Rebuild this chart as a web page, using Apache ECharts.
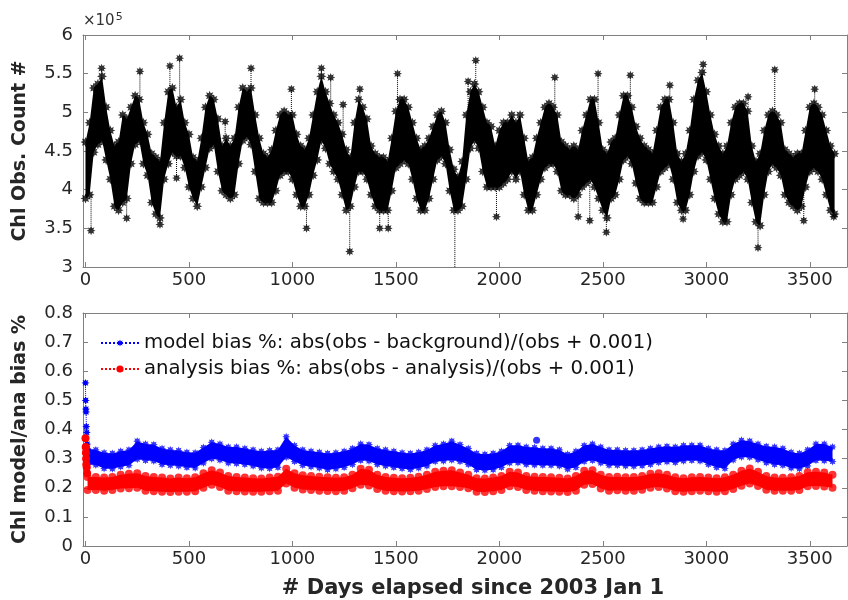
<!DOCTYPE html>
<html>
<head>
<meta charset="utf-8">
<script src="https://cdn.jsdelivr.net/npm/echarts@6/dist/echarts.min.js"></script>
<style>
  html, body { margin: 0; padding: 0; background: #fff; }
  #chart { width: 848px; height: 600px; }
</style>
</head>
<body>
<div id="chart"></div>
<script>
// Chl obs count (x1e5), upper / lower edge of the daily scatter, one value per 20 days from day 0
const obsHi = [
  4.65,4.9,5.35,5.4,5.5,5.1,4.8,4.6,4.65,5.0,
  4.95,5.1,5.25,5.2,4.9,4.75,4.5,4.45,4.4,4.9,
  5.3,5.35,5.1,5.2,4.9,4.75,4.45,4.4,4.7,5.1,
  5.25,5.2,4.95,4.6,4.7,4.6,4.7,5.1,5.35,5.3,
  5.35,5.0,4.7,4.5,4.45,4.55,4.8,5.0,5.05,5.0,
  5.0,4.75,4.6,4.55,4.7,5.0,5.3,5.5,5.3,5.15,
  5.0,4.9,4.75,4.55,4.45,4.9,5.2,5.1,4.95,4.6,
  4.5,4.45,4.45,4.4,4.7,5.05,5.2,5.2,5.1,4.9,
  4.7,4.55,4.6,4.7,4.85,5.0,5.05,4.9,4.55,4.3,
  4.2,4.4,5.0,5.3,5.4,5.3,5.1,4.9,4.85,4.6,
  4.8,4.9,4.9,5.0,4.9,5.0,4.7,4.4,4.45,4.7,
  4.9,5.1,5.15,5.1,5.0,4.65,4.6,4.55,4.6,4.55,
  4.8,5.0,5.2,5.2,4.9,4.55,4.5,4.65,4.7,5.0,
  5.25,5.25,5.1,4.85,4.7,4.6,4.55,4.5,4.8,5.1,
  5.2,5.2,4.9,4.5,4.4,4.5,4.8,5.2,5.45,5.55,
  5.3,5.0,4.75,4.6,4.5,4.6,4.9,5.1,5.15,5.15,
  5.05,4.6,4.4,4.5,4.8,5.0,5.05,5.0,4.9,4.55,
  4.5,4.45,4.5,4.5,4.8,5.1,5.15,5.1,5.0,4.8,
  4.6,4.5
];
const obsLo = [
  3.85,3.9,4.45,4.55,4.6,4.35,4.1,3.75,3.7,3.8,
  3.85,4.3,4.55,4.6,4.3,4.15,3.8,3.65,3.6,4.1,
  4.3,4.45,4.4,4.4,4.25,4.0,3.85,3.75,4.0,4.25,
  4.5,4.55,4.2,3.95,3.9,3.85,3.9,4.3,4.6,4.65,
  4.55,4.2,3.85,3.8,3.8,3.8,3.95,4.15,4.2,4.2,
  4.1,3.9,3.75,3.75,3.9,4.15,4.35,4.6,4.5,4.3,
  4.2,4.1,3.9,3.7,3.75,4.0,4.2,4.2,4.1,3.9,
  3.75,3.7,3.7,3.7,3.95,4.25,4.3,4.35,4.3,4.1,
  3.85,3.7,3.7,3.85,4.1,4.35,4.4,4.3,3.95,3.7,
  3.7,3.75,4.1,4.5,4.6,4.5,4.2,4.0,4.0,4.0,
  4.0,4.05,4.1,4.2,4.1,4.2,3.9,3.7,3.7,3.9,
  4.1,4.25,4.3,4.3,4.2,3.95,3.9,3.9,3.85,3.9,
  4.0,4.05,4.1,4.0,3.85,3.7,3.6,3.85,3.9,4.1,
  4.35,4.4,4.3,4.05,3.85,3.8,3.8,3.8,4.0,4.2,
  4.25,4.3,4.1,3.8,3.7,3.7,3.9,4.2,4.4,4.45,
  4.35,4.1,3.85,3.65,3.55,3.55,3.9,4.1,4.15,4.2,
  4.1,3.8,3.55,3.5,3.9,4.2,4.3,4.25,4.15,3.9,
  3.8,3.75,3.7,3.75,4.0,4.2,4.25,4.2,4.1,3.9,
  3.7,3.65
];
// isolated outlying days in the count series
const spikeDays = [27,78,199,263,360,408,440,455,675,800,995,1068,1140,1185,1245,1277,1326,1422,1463,1508,
  1785,1849,1886,1986,2268,2381,2437,2477,2517,2633,2824,2888,2985,3202,3250,3331,3471,3524,3616];
const spikeVals = [3.47,5.57,3.63,5.53,3.55,5.6,4.15,5.7,4.88,5.57,5.3,3.5,5.57,5.45,5.1,3.2,5.3,3.5,3.5,5.5,
  2.9,5.4,5.67,3.65,5.45,3.65,3.6,5.5,3.45,5.48,5.35,3.62,5.62,5.2,3.25,5.55,3.6,5.3,3.65];

// bias bands, one value per 40 days from day 10
const blueHi = [
  0.335,0.33,0.32,0.318,0.325,0.33,0.36,0.35,0.348,0.335,
  0.33,0.328,0.322,0.32,0.338,0.356,0.35,0.34,0.34,0.335,
  0.33,0.325,0.328,0.33,0.375,0.345,0.33,0.325,0.322,0.318,
  0.32,0.325,0.335,0.35,0.348,0.335,0.33,0.325,0.32,0.318,
  0.322,0.33,0.345,0.35,0.36,0.348,0.335,0.318,0.315,0.318,
  0.325,0.345,0.346,0.34,0.338,0.335,0.335,0.33,0.315,0.325,
  0.345,0.35,0.34,0.33,0.33,0.328,0.328,0.33,0.335,0.34,
  0.342,0.34,0.345,0.346,0.346,0.335,0.33,0.328,0.35,0.363,
  0.36,0.35,0.342,0.34,0.335,0.322,0.318,0.33,0.35,0.35,
  0.34
];
const blueLo = [
  0.28,0.278,0.266,0.265,0.272,0.277,0.298,0.294,0.292,0.28,
  0.277,0.275,0.27,0.268,0.285,0.3,0.295,0.285,0.283,0.28,
  0.275,0.268,0.266,0.27,0.305,0.29,0.277,0.272,0.268,0.262,
  0.265,0.27,0.28,0.294,0.292,0.28,0.275,0.27,0.266,0.263,
  0.268,0.275,0.29,0.292,0.295,0.29,0.28,0.262,0.26,0.262,
  0.27,0.285,0.286,0.28,0.278,0.277,0.277,0.275,0.264,0.27,
  0.29,0.294,0.285,0.277,0.277,0.275,0.274,0.276,0.28,0.287,
  0.289,0.287,0.292,0.294,0.292,0.28,0.27,0.266,0.295,0.306,
  0.305,0.296,0.286,0.28,0.277,0.268,0.265,0.275,0.294,0.293,
  0.29
];
const redHi = [
  0.237,0.237,0.235,0.237,0.245,0.248,0.25,0.24,0.237,0.235,
  0.232,0.235,0.233,0.236,0.25,0.26,0.252,0.24,0.237,0.235,
  0.233,0.232,0.235,0.238,0.265,0.25,0.243,0.24,0.238,0.236,
  0.234,0.236,0.245,0.265,0.262,0.245,0.237,0.234,0.233,0.234,
  0.238,0.245,0.255,0.258,0.26,0.252,0.245,0.233,0.232,0.235,
  0.24,0.255,0.252,0.24,0.238,0.237,0.236,0.234,0.232,0.24,
  0.258,0.26,0.245,0.237,0.238,0.236,0.237,0.24,0.248,0.25,
  0.245,0.236,0.233,0.236,0.237,0.235,0.233,0.236,0.245,0.258,
  0.266,0.255,0.24,0.235,0.234,0.236,0.24,0.253,0.255,0.252,
  0.245
];
const redLo = [
  0.192,0.192,0.19,0.192,0.197,0.198,0.2,0.19,0.188,0.186,
  0.185,0.186,0.186,0.188,0.2,0.21,0.203,0.19,0.188,0.187,
  0.186,0.186,0.188,0.19,0.215,0.2,0.194,0.192,0.19,0.189,
  0.188,0.19,0.198,0.21,0.208,0.196,0.19,0.188,0.187,0.188,
  0.19,0.196,0.203,0.205,0.205,0.203,0.198,0.186,0.185,0.188,
  0.192,0.205,0.203,0.192,0.19,0.188,0.187,0.186,0.185,0.19,
  0.21,0.213,0.197,0.19,0.191,0.19,0.19,0.193,0.2,0.203,
  0.197,0.188,0.186,0.188,0.19,0.188,0.186,0.188,0.196,0.207,
  0.215,0.206,0.193,0.19,0.19,0.19,0.192,0.205,0.206,0.204,
  0.2
];
// first days of the run (spin-up)
const startDays = [0, 1, 2, 3, 4, 6, 8];
const blueStart = [0.56, 0.5, 0.47, 0.46, 0.41, 0.39, 0.35];
const redStart = [0.37, 0.34, 0.32, 0.3, 0.28, 0.27, 0.25];
const blueOddDays = [2180];
const blueOddVals = [0.363];

const xTicks = [0, 500, 1000, 1500, 2000, 2500, 3000, 3500];
const NAME_MODEL = 'model bias %: abs(obs - background)/(obs + 0.001)';
const NAME_ANA = 'analysis bias %: abs(obs - analysis)/(obs + 0.001)';

const FONT = '"DejaVu Sans", Verdana, sans-serif';
const STAR = 'path://M20 10L15.08 12.04L17.07 17.07L12.04 15.08L10 20L7.96 15.08L2.93 17.07L4.92 12.04L0 10L4.92 7.96L2.93 2.93L7.96 4.92L10 0L12.04 4.92L17.07 2.93L15.08 7.96Z';

// part of a marker radius in data units, so the drawn band keeps the read extent
const OBS_INSET = 0.035;
const BIAS_INSET = 0;

const obsDays = obsHi.map((_, i) => i * 20);
const biasDays = blueHi.map((_, i) => 10 + i * 40);

// filled band between the upper and lower edge, plus markers on both edges
function bandSeries(days, hi, lo, inset, color, xi, yi, symbol, size) {
  const rows = days.map((d, i) => [d, hi[i] - inset, lo[i] + inset]);
  const common = { xAxisIndex: xi, yAxisIndex: yi, silent: true };
  return [
    { ...common, type: 'custom', data: rows, encode: { x: 0, y: [1, 2] },
      renderItem(params, api) {
        if (params.dataIndex !== 0) return null;
        const pts = rows.map(r => api.coord([r[0], r[1]]))
          .concat(rows.slice().reverse().map(r => api.coord([r[0], r[2]])));
        return { type: 'polygon', shape: { points: pts }, style: { fill: color } };
      } },
    { ...common, type: 'scatter', data: rows.map(r => [r[0], r[1]]), symbol, symbolSize: size, itemStyle: { color } },
    { ...common, type: 'scatter', data: rows.map(r => [r[0], r[2]]), symbol, symbolSize: size, itemStyle: { color } },
  ];
}

const spikeLine = [];
spikeDays.forEach((d, k) => {
  const i = Math.min(obsHi.length - 1, Math.round(d / 20));
  const v = spikeVals[k];
  const base = v > obsHi[i] - OBS_INSET ? obsHi[i] - OBS_INSET : obsLo[i] + OBS_INSET;
  spikeLine.push([d, base], [d, v], ['-', '-']);
});

const axisLine = { show: true, onZero: false, lineStyle: { color: '#808080', width: 1 } };
const labelStyle = { fontSize: 18, color: '#262626', fontFamily: FONT, formatter: v => String(v) };
const nameStyle = { fontWeight: 'bold', color: '#262626', fontFamily: FONT };

function xAxes(gi, name) {
  return [
    { gridIndex: gi, type: 'value', min: -12, max: 3680, position: 'bottom',
      axisLine, splitLine: { show: false },
      axisTick: { inside: true, length: 5, customValues: xTicks, lineStyle: { color: '#808080' } },
      axisLabel: { ...labelStyle, margin: 4, customValues: xTicks },
      name, nameLocation: 'middle', nameGap: 32,
      nameTextStyle: { ...nameStyle, fontSize: 21, padding: [0, 0, 0, 16] } },
    { gridIndex: gi, type: 'value', min: -12, max: 3680, position: 'top',
      axisLine, splitLine: { show: false },
      axisTick: { inside: true, length: 5, customValues: xTicks, lineStyle: { color: '#808080' } },
      axisLabel: { show: false } },
  ];
}
function yAxes(gi, min, max, interval, name) {
  return [
    { gridIndex: gi, type: 'value', min, max, interval, position: 'left',
      axisLine, splitLine: { show: false },
      axisTick: { inside: true, length: 5, lineStyle: { color: '#808080' } },
      axisLabel: { ...labelStyle, margin: 10 },
      name, nameLocation: 'middle', nameGap: 53,
      nameTextStyle: { ...nameStyle, fontSize: 19 } },
    { gridIndex: gi, type: 'value', min, max, interval, position: 'right',
      axisLine, splitLine: { show: false },
      axisTick: { inside: true, length: 5, lineStyle: { color: '#808080' } },
      axisLabel: { show: false } },
  ];
}

const chart = echarts.init(document.getElementById('chart'), null, { renderer: 'canvas' });

const option = {
  animation: false,
  backgroundColor: '#fff',
  grid: [
    { left: 83, right: 1, top: 35, height: 232 },
    { left: 83, right: 1, top: 313, height: 233 },
  ],
  xAxis: [...xAxes(0, ''), ...xAxes(1, '# Days elapsed since 2003 Jan 1')],
  yAxis: [...yAxes(0, 3, 6, 0.5, 'Chl Obs. Count #'), ...yAxes(1, 0, 0.8, 0.1, 'Chl model/ana bias %')],
  legend: {
    data: [NAME_MODEL, NAME_ANA],
    orient: 'vertical', left: 95, top: 328, itemWidth: 38, itemHeight: 9, itemGap: 6,
    textStyle: { fontSize: 19.7, color: '#111', fontFamily: FONT },
  },
  graphic: [{
    type: 'text', left: 83, top: 12,
    style: {
      text: '\u00d710{s|5}', fontSize: 15, fill: '#333', fontFamily: FONT,
      rich: { s: { fontSize: 11, verticalAlign: 'top', padding: [0, 0, 8, 1], fontFamily: FONT } },
    },
  }],
  series: [
    ...bandSeries(obsDays, obsHi, obsLo, OBS_INSET, '#000', 0, 0, STAR, 10),
    { type: 'line', xAxisIndex: 0, yAxisIndex: 0, data: spikeLine, symbol: 'none', silent: true,
      lineStyle: { color: '#000', width: 1, type: 'dotted' } },
    { type: 'scatter', xAxisIndex: 0, yAxisIndex: 0, symbol: STAR, symbolSize: 9, silent: true,
      data: spikeDays.map((d, k) => [d, spikeVals[k]]), itemStyle: { color: '#000' } },

    ...bandSeries(biasDays, blueHi, blueLo, BIAS_INSET, '#0000ff', 2, 2, STAR, 8),
    ...bandSeries(biasDays, redHi, redLo, BIAS_INSET, '#ff0000', 2, 2, 'circle', 8),
    { type: 'scatter', xAxisIndex: 2, yAxisIndex: 2, symbol: 'circle', symbolSize: 7, silent: true,
      data: blueOddDays.map((d, k) => [d, blueOddVals[k]]), itemStyle: { color: '#0000ff' } },
    { name: NAME_MODEL, type: 'line', xAxisIndex: 2, yAxisIndex: 2, symbol: STAR, symbolSize: 8,
      data: startDays.map((d, i) => [d, blueStart[i]]),
      itemStyle: { color: '#0000ff' }, lineStyle: { color: '#0000ff', width: 1, type: 'dotted' } },
    { name: NAME_ANA, type: 'line', xAxisIndex: 2, yAxisIndex: 2, symbol: 'circle', symbolSize: 8,
      data: startDays.map((d, i) => [d, redStart[i]]),
      itemStyle: { color: '#ff0000' }, lineStyle: { color: '#ff0000', width: 1, type: 'dotted' } },
  ],
};

chart.setOption(option);
window.addEventListener('resize', () => chart.resize());
</script>
</body>
</html>
